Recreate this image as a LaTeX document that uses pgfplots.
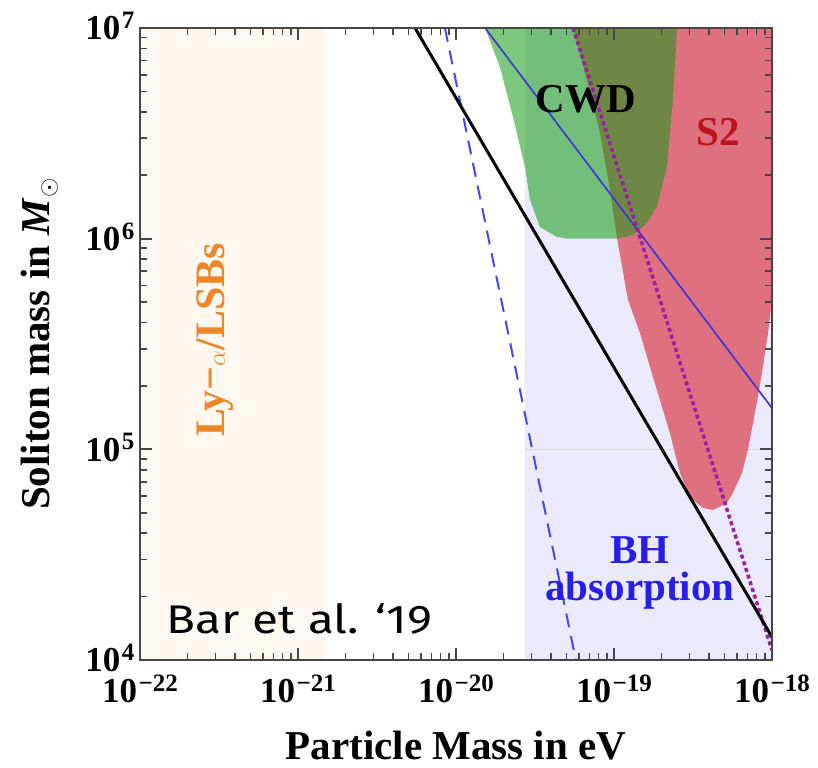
\documentclass[border=0pt]{standalone}
\usepackage{fontspec}
\setmainfont{Liberation Serif}
\newfontfamily\barfont{Fira Sans}
\usepackage{graphicx}
\usepackage{pgfplots}
\pgfplotsset{compat=1.18}
\definecolor{lya}{RGB}{254,248,240}
\definecolor{bh}{RGB}{234,234,252}
\definecolor{cwd}{RGB}{20,155,20}
\definecolor{stwo}{RGB}{222,112,128}
\definecolor{stwotext}{RGB}{190,20,30}
\definecolor{bhtext}{RGB}{40,30,230}
\definecolor{lyatext}{RGB}{235,135,40}
\definecolor{bdash}{RGB}{70,70,230}
\definecolor{bsolid}{RGB}{60,50,220}
\definecolor{pdot}{RGB}{155,30,165}
\definecolor{axframe}{RGB}{70,70,70}
\newcommand{\ex}[1]{\kern1.5pt\raisebox{11.5pt}{\fontsize{25}{28}\selectfont #1}}
\begin{document}
\begin{tikzpicture}
\begin{axis}[name=ax, scale only axis, width=632pt, height=632pt,
  xmode=log, ymode=log, xmin=1e-22, xmax=1e-18, ymin=1e4, ymax=1e7,
  axis on top,
  axis line style={draw=axframe, line width=1.6pt},
  major tick style={draw=axframe, line width=2pt},
  minor tick style={draw=axframe, line width=1.6pt},
  tick align=inside,
  major tick length=12pt, minor tick length=7pt,
  xtick={1e-22,1e-21,1e-20,1e-19,1e-18},
  minor xtick={2e-22,3e-22,4e-22,5e-22,6e-22,7e-22,8e-22,9e-22,
               2e-21,3e-21,4e-21,5e-21,6e-21,7e-21,8e-21,9e-21,
               2e-20,3e-20,4e-20,5e-20,6e-20,7e-20,8e-20,9e-20,
               2e-19,3e-19,4e-19,5e-19,6e-19,7e-19,8e-19,9e-19},
  xticklabels={10\ex{−22},10\ex{−21},10\ex{−20},10\ex{−19},10\ex{−18}},
  ytick={1e4,1e5,1e6,1e7},
  minor ytick={2e4,3e4,4e4,5e4,6e4,7e4,8e4,9e4,
               2e5,3e5,4e5,5e5,6e5,7e5,8e5,9e5,
               2e6,3e6,4e6,5e6,6e6,7e6,8e6,9e6},
  yticklabels={10\ex{4},10\ex{5},10\ex{6},10\ex{7}},
  ticklabel style={font=\fontsize{35}{40}\selectfont\bfseries},
  xticklabel style={anchor=base, yshift=-43pt},
  yticklabel style={anchor=base east, yshift=-12pt, xshift=-2pt},
  xlabel={Particle Mass in eV},
  ylabel={Soliton mass in \textit{M}$_\odot$},
  label style={font=\fontsize{41}{48}\selectfont\bfseries},
  xlabel style={at={(axis description cs:0.5,-0.1582)}, anchor=base},
  ylabel style={at={(axis description cs:-0.1424,0.5)}, anchor=base},
]
% Ly-alpha / LSBs excluded region
\addplot[fill=lya, draw=none] coordinates {(1e-22,1e4) (1.483e-21,1e4) (1.483e-21,1e7) (1e-22,1e7)} -- cycle;
% BH absorption region
\addplot[fill=bh, draw=none] coordinates {(2.735e-20,1e4) (1e-18,1e4) (1e-18,1e7) (2.735e-20,1e7)} -- cycle;
\addplot[draw=black!15, line width=0.8pt] coordinates {(2.735e-20,1e5) (1e-18,1e5)};
% S2 region
\addplot[fill=stwo, draw=none] coordinates {
 (5.508e-20,1e7) (6.745e-20,5.66e6) (8.147e-20,3.18e6) (9.44e-20,1.70e6)
 (1.045e-19,1.007e6) (1.227e-19,5.12e5) (1.462e-19,3.56e5) (1.690e-19,2.46e5)
 (1.954e-19,1.714e5) (2.259e-19,1.197e5) (2.618e-19,7.73e4) (3.027e-19,5.94e4)
 (3.656e-19,5.27e4) (4.236e-19,5.15e4) (5.188e-19,5.56e4) (5.662e-19,6.21e4)
 (6.457e-19,7.73e4) (7.047e-19,9.93e4) (7.586e-19,1.334e5) (8.147e-19,1.77e5)
 (8.77e-19,2.46e5) (9.441e-19,3.56e5) (1e-18,5.12e5) (1.059e-18,8.83e5)
 (1.125e-18,1e7)} -- cycle;
% CWD region
\addplot[fill=cwd, fill opacity=0.55, draw=none] coordinates {
 (1.528e-20,1e7) (1.897e-20,6.53e6) (2.296e-20,3.78e6) (2.735e-20,2.19e6)
 (2.94e-20,1.53e6) (3.40e-20,1.135e6) (4.36e-20,1.019e6) (5.05e-20,1e6)
 (1.045e-19,1e6) (1.318e-19,1.04e6) (1.618e-19,1.186e6) (1.871e-19,1.413e6)
 (2.163e-19,2.19e6) (2.36e-19,4.55e6) (2.506e-19,1e7)} -- cycle;
% lines
\addplot[bdash, line width=2pt, dash pattern=on 14pt off 9pt] coordinates {(8.511e-21,1e7) (5.741e-20,1e4)};
\addplot[bsolid, line width=1.6pt] coordinates {(1.528e-20,1e7) (1e-18,1.570e5)};
\addplot[pdot, line width=3.5pt, dash pattern=on 4pt off 3pt] coordinates {(5.508e-20,1e7) (1e-18,1.114e4)};
\addplot[black, line width=3pt] coordinates {(5.508e-21,1e7) (1e-18,1.285e4)};
% labels
\node[font=\fontsize{41}{48}\selectfont\bfseries, text=black] at (axis cs:6.65e-20,4.6e6) {CWD};
\node[font=\fontsize{41}{48}\selectfont\bfseries, text=stwotext] at (axis cs:4.55e-19,3.21e6) {S2};
\node[font=\fontsize{41}{37}\selectfont\bfseries, text=bhtext, align=center] at (axis cs:1.46e-19,2.59e4) {BH\\absorption};
\node[rotate=90, anchor=base, font=\fontsize{42}{46}\selectfont\bfseries, text=lyatext] at (axis cs:3.45e-22,3.30e5) {Ly−$\alpha$/LSBs};
\node[anchor=base west, font=\barfont\fontsize{40}{48}\selectfont, text=black] at (axis cs:1.4e-22,1.34e4) {\scalebox{1.19}[1]{Bar et al. ‘19}};
\end{axis}
\pgfresetboundingbox
\path ([shift={(-140pt,-108pt)}]ax.south west) rectangle ([shift={(46pt,28pt)}]ax.north east);
\end{tikzpicture}
\end{document}
